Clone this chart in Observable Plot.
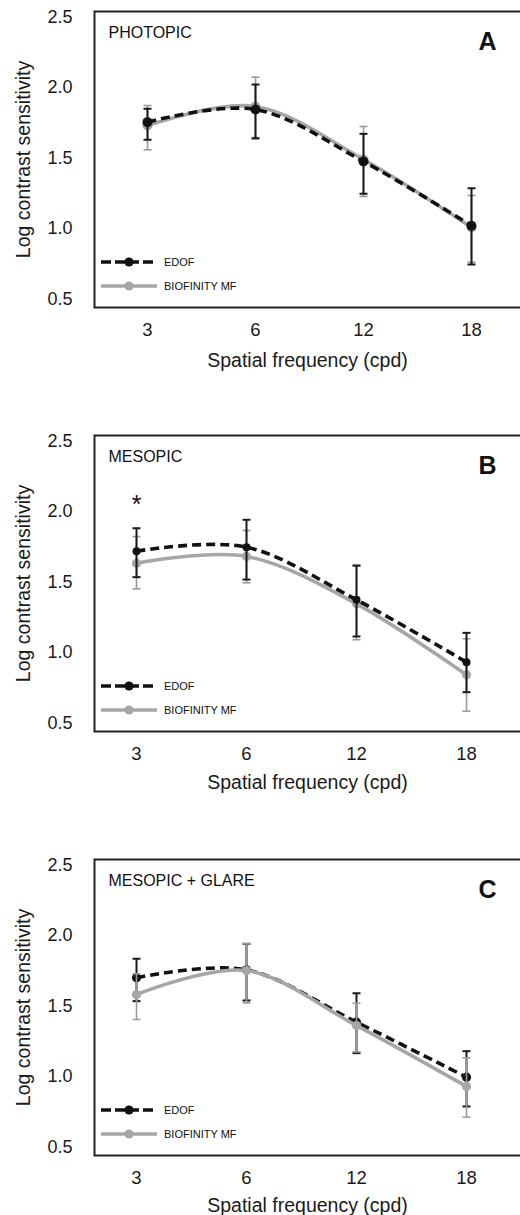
<!DOCTYPE html>
<html>
<head>
<meta charset="utf-8">
<script src="https://cdn.jsdelivr.net/npm/d3@7"></script>
<script src="https://cdn.jsdelivr.net/npm/@observablehq/plot@0.6"></script>
<style>
  html, body { margin: 0; padding: 0; background: #fff; overflow: hidden; }
  #chart svg { display: block; overflow: hidden; }
</style>
</head>
<body>
<div id="chart"></div>
<script>
// ---- data ----
const freqs = [3, 6, 12, 18];
const yTicks = [0.5, 1.0, 1.5, 2.0, 2.5];
const seriesNames = ["EDOF", "BIOFINITY MF"];
const xLabel = "Spatial frequency (cpd)";
const yLabel = "Log contrast sensitivity";

// A: photopic
const photopicEdof   = [1.755, 1.845, 1.476, 1.020];
const photopicEdofLo = [1.630, 1.639, 1.247, 0.745];
const photopicEdofHi = [1.850, 2.022, 1.672, 1.286];
const photopicBio    = [1.731, 1.866, 1.490, 1.008];
const photopicBioLo  = [1.559, 1.646, 1.228, 0.761];
const photopicBioHi  = [1.873, 2.074, 1.724, 1.235];

// B: mesopic
const mesopicEdof   = [1.719, 1.748, 1.374, 0.932];
const mesopicEdofLo = [1.535, 1.518, 1.114, 0.719];
const mesopicEdofHi = [1.882, 1.942, 1.618, 1.140];
const mesopicBio    = [1.634, 1.682, 1.346, 0.842];
const mesopicBioLo  = [1.452, 1.495, 1.091, 0.584];
const mesopicBioHi  = [1.823, 1.866, 1.613, 1.098];
const mesopicStars  = [{f: 3, v: 2.05, label: "*"}];

// C: mesopic + glare
const glareEdof   = [1.701, 1.757, 1.386, 0.996];
const glareEdofLo = [1.535, 1.540, 1.166, 0.788];
const glareEdofHi = [1.836, 1.942, 1.591, 1.180];
const glareBio    = [1.582, 1.752, 1.362, 0.930];
const glareBioLo  = [1.405, 1.523, 1.175, 0.712];
const glareBioHi  = [1.729, 1.942, 1.520, 1.133];

// ---- styling ----
const FONT = "'Liberation Sans', Arial, Helvetica, sans-serif";
const BLACK = "#111";
const GRAY = "#a6a6a6";
const GRAYBAR = "#9a9a9a";
const capSymbol = {
  draw(ctx, size) {
    const w = Math.sqrt(size / Math.PI);
    ctx.moveTo(-w, 0);
    ctx.lineTo(w, 0);
  }
};

function rows(v, lo, hi) {
  return freqs.map((f, i) => ({f, v: v[i], lo: lo[i], hi: hi[i]}));
}

function seriesMarks(data, kind, r) {
  const isEdof = kind === "edof";
  const color = isEdof ? BLACK : GRAY;
  const barColor = isEdof ? "#1a1a1a" : GRAYBAR;
  const barW = isEdof ? 2 : 1.6;
  return {
    line: Plot.line(data, {
      x: "f", y: "v", curve: "cardinal",
      stroke: color, strokeWidth: 3.6,
      strokeDasharray: isEdof ? "9,5" : null,
      strokeLinecap: "butt"
    }),
    bars: [
      Plot.ruleX(data, {x: "f", y1: "lo", y2: "hi", stroke: barColor, strokeWidth: barW}),
      Plot.dot(data, {x: "f", y: "hi", symbol: capSymbol, r: 4, fill: "none", stroke: barColor, strokeWidth: barW}),
      Plot.dot(data, {x: "f", y: "lo", symbol: capSymbol, r: 4, fill: "none", stroke: barColor, strokeWidth: barW})
    ],
    dots: Plot.dot(data, {x: "f", y: "v", r, fill: color, stroke: "none"})
  };
}

function panel(cfg) {
  const edof = seriesMarks(rows(cfg.edof, cfg.edofLo, cfg.edofHi), "edof", cfg.rBlack);
  const bio = seriesMarks(rows(cfg.bio, cfg.bioLo, cfg.bioHi), "bio", cfg.rGray);
  const dataMarks = cfg.grayOnTop
    ? [edof.line, ...edof.bars, edof.dots, ...bio.bars, bio.line, bio.dots]
    : [bio.line, ...bio.bars, bio.dots, ...edof.bars, edof.line, edof.dots];

  const marginTop = 11, marginLeft = 94, marginRight = -14;
  const svg = Plot.plot({
    width: 520,
    height: cfg.height,
    marginTop,
    marginBottom: cfg.marginBottom,
    marginLeft,
    marginRight,
    style: {fontFamily: FONT, fontSize: "18px", color: "#1a1a1a", background: "#fff", overflow: "hidden"},
    x: {type: "point", domain: freqs, range: cfg.xRange, padding: 0},
    y: {domain: [0.44, 2.54]},
    marks: [
      Plot.axisY({ticks: yTicks, tickSize: 0, tickPadding: 22, tickFormat: d => d.toFixed(1), label: null, fontSize: 18}),
      Plot.axisX({tickSize: 0, tickPadding: 15.5, label: null, fontSize: 18.5}),
      Plot.text([yLabel], {frameAnchor: "left", text: d => d, rotate: -90, dx: -71, textAnchor: "middle", lineAnchor: "middle", fontSize: 19.5, fill: "#1a1a1a"}),
      Plot.text([xLabel], {frameAnchor: "bottom", text: d => d, dx: -7, dy: cfg.xLabelDy, textAnchor: "middle", lineAnchor: "middle", fontSize: 19.5, fill: "#1a1a1a"}),
      ...dataMarks,
      ...(cfg.stars ? [Plot.text(cfg.stars, {x: "f", y: "v", text: "label", fontSize: 25, fill: BLACK})] : []),
      Plot.text([cfg.title], {frameAnchor: "top-left", text: d => d, dx: 14, dy: 21, lineAnchor: "middle", textAnchor: "start", fontSize: 16, fill: "#111"}),
      Plot.text([cfg.letter], {frameAnchor: "top-left", text: d => d, dx: 393, dy: 30, lineAnchor: "middle", textAnchor: "middle", fontSize: 25, fontWeight: "bold", fill: "#111"}),
      Plot.frame({stroke: "#222", strokeWidth: 2})
    ]
  });

  // legend (inside the frame, lower left)
  const yb = cfg.height - cfg.marginBottom;
  const g = d3.select(svg).append("g").attr("font-family", FONT).attr("text-anchor", "start");
  const items = [
    {name: seriesNames[0], color: BLACK, dash: "10,4", dy: -45},
    {name: seriesNames[1], color: GRAY, dash: null, dy: -21}
  ];
  for (const it of items) {
    const y = yb + it.dy;
    g.append("line").attr("x1", 101).attr("x2", 157).attr("y1", y).attr("y2", y)
      .attr("stroke", it.color).attr("stroke-width", 3.6)
      .attr("stroke-dasharray", it.dash);
    g.append("circle").attr("cx", 129).attr("cy", y).attr("r", 4.6).attr("fill", it.color);
    g.append("text").attr("x", 164).attr("y", y).attr("dy", "0.36em")
      .attr("text-anchor", "start")
      .attr("font-size", 11).attr("fill", "#111").text(it.name);
  }
  return svg;
}

const chart = document.getElementById("chart");
chart.append(panel({
  edof: photopicEdof, edofLo: photopicEdofLo, edofHi: photopicEdofHi,
  bio: photopicBio, bioLo: photopicBioLo, bioHi: photopicBioHi,
  title: "PHOTOPIC", letter: "A", height: 424, marginBottom: 117,
  xRange: [146, 472], xLabelDy: 53, grayOnTop: false, rBlack: 5, rGray: 5
}));
chart.append(panel({
  edof: mesopicEdof, edofLo: mesopicEdofLo, edofHi: mesopicEdofHi,
  bio: mesopicBio, bioLo: mesopicBioLo, bioHi: mesopicBioHi,
  title: "MESOPIC", letter: "B", height: 424, marginBottom: 117,
  xRange: [135, 467], xLabelDy: 51, grayOnTop: false, rBlack: 4, rGray: 4.6,
  stars: mesopicStars
}));
chart.append(panel({
  edof: glareEdof, edofLo: glareEdofLo, edofHi: glareEdofHi,
  bio: glareBio, bioLo: glareBioLo, bioHi: glareBioHi,
  title: "MESOPIC + GLARE", letter: "C", height: 367, marginBottom: 60,
  xRange: [135, 467], xLabelDy: 50, grayOnTop: true, rBlack: 4.6, rGray: 4.6
}));
</script>
</body>
</html>
